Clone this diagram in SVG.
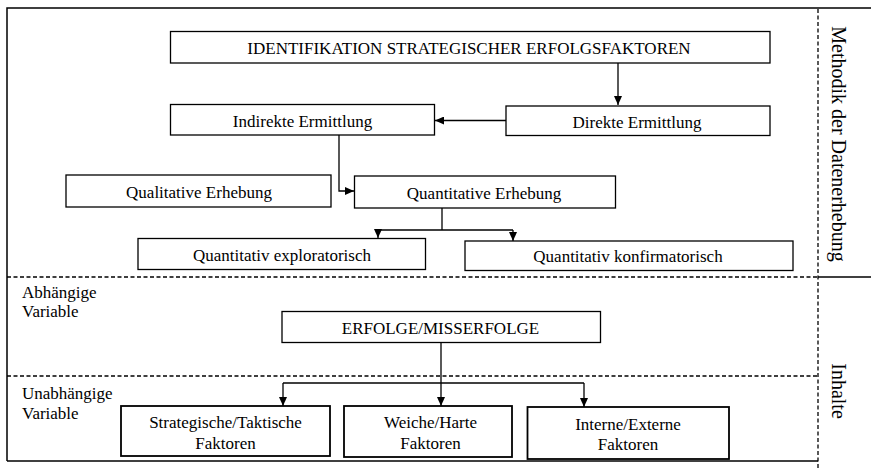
<svg xmlns="http://www.w3.org/2000/svg" width="871" height="470" viewBox="0 0 871 470">
<style>
.box{fill:#fff;stroke:#000;stroke-width:1.3}
.bbox{fill:#fff;stroke:#000;stroke-width:1.8}
.t{font-family:"Liberation Serif","Times New Roman",serif;font-size:17px;fill:#000;text-anchor:middle}
.l{font-family:"Liberation Serif","Times New Roman",serif;font-size:17px;fill:#000}
.v{font-family:"Liberation Serif","Times New Roman",serif;font-size:20px;fill:#000;text-anchor:middle}
.c{fill:none;stroke:#000;stroke-width:1.3}
.d{fill:none;stroke:#000;stroke-width:1.3;stroke-dasharray:4 2.5}
.f{fill:none;stroke:#000;stroke-width:1.5}
</style>
<defs>
<marker id="ah" markerWidth="10" markerHeight="8" refX="9" refY="4" orient="auto" markerUnits="userSpaceOnUse">
<path d="M0,0 L9,4 L0,8 Z" fill="#000"/>
</marker>
</defs>
<rect width="871" height="470" fill="#fff"/>
<g id="frame">
<path class="f" d="M7,461 V8 H871"/>
<path class="f" d="M7,461 H818"/>
<path class="d" d="M818,9 V470"/>
<path class="d" d="M7,277 H818"/>
<path class="f" d="M818,277 H871"/>
<path class="d" d="M7,376 H818"/>
</g>
<g id="connectors">
<path class="c" d="M618,63 V105" marker-end="url(#ah)"/>
<path class="c" d="M506,120.5 H435" marker-end="url(#ah)"/>
<path class="c" d="M339,135 V191 H354" marker-end="url(#ah)"/>
<path class="c" d="M442,208 V230"/>
<path class="c" d="M378,230 H513"/>
<path class="c" d="M378,230 V238" marker-end="url(#ah)"/>
<path class="c" d="M513,230 V241" marker-end="url(#ah)"/>
<path class="c" d="M441,343 V406" marker-end="url(#ah)"/>
<path class="c" d="M283,383 H584"/>
<path class="c" d="M283,383 V406" marker-end="url(#ah)"/>
<path class="c" d="M584,383 V407" marker-end="url(#ah)"/>
</g>
<g id="identifikation">
<rect class="box" x="170.5" y="31.5" width="599.5" height="31.5"/>
<text class="t" x="469" y="54">IDENTIFIKATION STRATEGISCHER ERFOLGSFAKTOREN</text>
</g>
<g id="indirekte">
<rect class="box" x="170.5" y="104.5" width="264" height="30.5"/>
<text class="t" x="302.5" y="127">Indirekte Ermittlung</text>
</g>
<g id="direkte">
<rect class="box" x="506" y="106" width="264" height="29.5"/>
<text class="t" x="637" y="128">Direkte Ermittlung</text>
</g>
<g id="qualitative">
<rect class="box" x="66" y="175" width="265" height="32"/>
<text class="t" x="199" y="197.5">Qualitative Erhebung</text>
</g>
<g id="quantitative">
<rect class="box" x="354.5" y="176" width="261" height="32"/>
<text class="t" x="484" y="198.5">Quantitative Erhebung</text>
</g>
<g id="exploratorisch">
<rect class="box" x="138" y="238.5" width="287.5" height="31"/>
<text class="t" x="282" y="260.5">Quantitativ exploratorisch</text>
</g>
<g id="konfirmatorisch">
<rect class="box" x="465" y="241" width="328" height="29.5"/>
<text class="t" x="628" y="262">Quantitativ konfirmatorisch</text>
</g>
<g id="abhaengige">
<text class="l" x="22" y="298">Abhängige</text>
<text class="l" x="22" y="317">Variable</text>
</g>
<g id="erfolge">
<rect class="box" x="282" y="311.5" width="318.5" height="31"/>
<text class="t" x="440.5" y="334">ERFOLGE/MISSERFOLGE</text>
</g>
<g id="unabhaengige">
<text class="l" x="22" y="399">Unabhängige</text>
<text class="l" x="22" y="419">Variable</text>
</g>
<g id="strategische">
<rect class="bbox" x="121" y="406" width="209" height="50"/>
<text class="t" x="225.5" y="428">Strategische/Taktische</text>
<text class="t" x="225.5" y="449">Faktoren</text>
</g>
<g id="weiche">
<rect class="bbox" x="344" y="406" width="168" height="51"/>
<text class="t" x="430.5" y="428">Weiche/Harte</text>
<text class="t" x="430.5" y="449">Faktoren</text>
</g>
<g id="interne">
<rect class="bbox" x="527.5" y="407" width="201.5" height="52"/>
<text class="t" x="628" y="430">Interne/Externe</text>
<text class="t" x="628" y="450">Faktoren</text>
</g>
<g id="methodik">
<text class="v" transform="translate(832,144) rotate(90)">Methodik der Datenerhebung</text>
</g>
<g id="inhalte">
<text class="v" transform="translate(832,391) rotate(90)">Inhalte</text>
</g>
</svg>
